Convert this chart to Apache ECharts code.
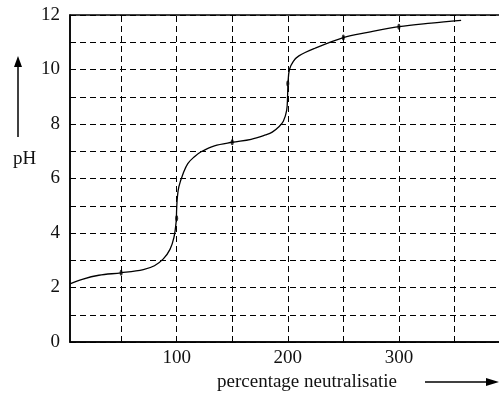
<!DOCTYPE html>
<html>
<head>
<meta charset="utf-8">
<script src="https://cdn.jsdelivr.net/npm/echarts@6/dist/echarts.min.js"></script>
<style>html,body{margin:0;padding:0;background:#fff}#c{width:499px;height:396px}</style>
</head>
<body>
<div id="c"></div>
<script>
// Titration curve: percentage neutralisatie vs pH
const curveX = [4, 15, 30, 50, 70, 80, 88, 94, 97.5, 99.5, 100, 100.6, 102, 106, 110, 116, 122, 134, 150, 167, 180, 186, 192, 196, 199, 199.8, 200.2, 201.5, 205, 210, 224, 250, 272, 300, 329, 356];
const curveY = [2.13, 2.3, 2.45, 2.54, 2.66, 2.8, 3.05, 3.4, 3.83, 4.4, 4.9, 5.3, 5.7, 6.2, 6.55, 6.8, 6.98, 7.2, 7.33, 7.44, 7.6, 7.7, 7.9, 8.1, 8.5, 9.0, 9.5, 10.0, 10.3, 10.5, 10.77, 11.17, 11.36, 11.57, 11.7, 11.8];
const dotX = [50, 100, 150, 200, 250, 300];
const dotY = [2.54, 4.54, 7.33, 9.49, 11.17, 11.57];
const xGridValues = [50, 100, 150, 200, 250, 300, 350];
const xLabelValues = [100, 200, 300];
const yLabelValues = [0, 2, 4, 6, 8, 10, 12];

const FONT = 'Liberation Serif';
const chart = echarts.init(document.getElementById('c'), null, {renderer: 'canvas'});
chart.setOption({
  animation: false,
  grid: {left: 70, top: 15, height: 327, width: 440, outerBoundsMode: 'none', containLabel: false, show: true, borderColor: '#000', borderWidth: 1.5, backgroundColor: 'transparent'},
  xAxis: {
    type: 'value', min: 4, max: 400,
    axisLine: {show: true, onZero: false, lineStyle: {color: '#000', width: 1.5}},
    axisTick: {show: false},
    splitLine: {show: false},
    axisLabel: {customValues: xLabelValues, color: '#111', fontFamily: FONT, fontSize: 19, margin: 7}
  },
  yAxis: {
    type: 'value', min: 0, max: 12, interval: 1,
    axisLine: {show: true, lineStyle: {color: '#000', width: 1.5}},
    axisTick: {show: false},
    splitLine: {show: true, lineStyle: {color: '#000', width: 1, type: [6, 4]}},
    axisLabel: {color: '#111', fontFamily: FONT, fontSize: 19, margin: 10,
      formatter: v => yLabelValues.indexOf(v) >= 0 ? String(v) : ''}
  },
  series: [
    {
      type: 'line', smooth: 0.35, showSymbol: false, symbol: 'none',
      data: curveX.map((x, i) => [x, curveY[i]]),
      lineStyle: {color: '#000', width: 1.3},
      markLine: {
        silent: true, symbol: 'none', label: {show: false},
        lineStyle: {color: '#000', width: 1, type: [6, 4]},
        data: xGridValues.map(v => ({xAxis: v}))
      },
      z: 3
    },
    {
      type: 'scatter', symbol: 'circle', symbolSize: [3, 6],
      data: dotX.map((x, i) => [x, dotY[i]]),
      itemStyle: {color: '#000'}, z: 4
    }
  ],
  graphic: [
    {type: 'line', shape: {x1: 18, y1: 137, x2: 18, y2: 64}, style: {stroke: '#000', lineWidth: 1.5}},
    {type: 'polygon', shape: {points: [[18, 56], [14, 67], [22, 67]]}, style: {fill: '#000'}},
    {type: 'text', left: 13, top: 150, style: {text: 'pH', font: '19px "Liberation Serif"', fill: '#111'}},
    {type: 'text', left: 217, top: 373, style: {text: 'percentage neutralisatie', font: '19px "Liberation Serif"', fill: '#111'}},
    {type: 'line', shape: {x1: 425, y1: 382, x2: 488, y2: 382}, style: {stroke: '#000', lineWidth: 1.5}},
    {type: 'polygon', shape: {points: [[499, 382], [486, 378], [486, 386]]}, style: {fill: '#000'}}
  ]
});
</script>
</body>
</html>
